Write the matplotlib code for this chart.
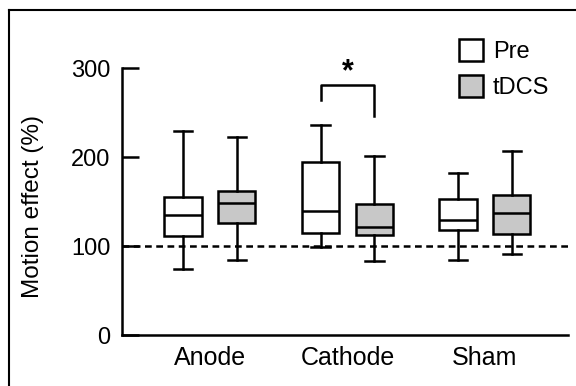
import matplotlib
matplotlib.use("Agg")
import matplotlib.pyplot as plt
from matplotlib.lines import Line2D
from matplotlib.patches import Patch

plt.rcParams["font.family"] = ["Liberation Sans", "DejaVu Sans"]

# values (Motion effect, %)
groups = ["Anode", "Cathode", "Sham"]
conditions = ["Pre", "tDCS"]
whis_lo = [[74, 84], [99, 83], [84, 91]]
q1 = [[111, 126], [115, 113], [118, 114]]
med = [[135, 149], [140, 122], [129, 137]]
q3 = [[155, 162], [195, 147], [153, 158]]
whis_hi = [[230, 223], [236, 201], [182, 207]]
fills = ["white", "#c8c8c8"]
y_ticks = [0, 100, 200, 300]
baseline = 100

OFFSET = 0.196
BOX_W = 0.27
LW = 1.8

fig = plt.figure(figsize=(5.76, 3.86), dpi=100)
ax = fig.add_axes([121.7 / 576, 51 / 386, (568 - 121.7) / 576, (335 - 68.3) / 386])

for gi, g in enumerate(groups):
    for ci, cond in enumerate(conditions):
        pos = gi + 1 + (ci - 0.5) * 2 * OFFSET
        stats = [{
            "med": med[gi][ci], "q1": q1[gi][ci], "q3": q3[gi][ci],
            "whislo": whis_lo[gi][ci], "whishi": whis_hi[gi][ci], "fliers": [],
        }]
        ax.bxp(
            stats, positions=[pos], widths=BOX_W, patch_artist=True,
            showfliers=False, manage_ticks=False,
            boxprops=dict(facecolor=fills[ci], edgecolor="black", linewidth=LW),
            medianprops=dict(color="black", linewidth=LW),
            whiskerprops=dict(color="black", linewidth=LW),
            capprops=dict(color="black", linewidth=LW),
        )

ax.axhline(baseline, color="black", linewidth=LW, linestyle=(0, (2.7, 1.8)), zorder=1)

# significance bracket for Cathode
left = 2 - OFFSET
right = 2 + OFFSET
ax.plot([left, left, right, right], [264, 281, 281, 246], color="black",
        linewidth=LW, clip_on=False)
ax.text(2, 296, "*", ha="center", va="center", fontsize=22, fontweight="bold")

ax.set_xlim(0.358, 3.604)
ax.set_ylim(0, 300)
ax.set_yticks(y_ticks)
ax.set_xticks([1, 2, 3])
ax.set_xticklabels(groups, fontsize=18)
ax.tick_params(axis="y", direction="in", length=12, width=LW, labelsize=17, pad=8)
ax.tick_params(axis="x", length=0, pad=8)
ax.spines["top"].set_visible(False)
ax.spines["right"].set_visible(False)
ax.spines["left"].set_linewidth(LW)
ax.spines["bottom"].set_linewidth(LW)
ax.set_ylabel("Motion effect (%)", fontsize=17.5)
ax.yaxis.set_label_coords(-0.175, 0.48)

handles = [Patch(facecolor=f, edgecolor="black", linewidth=LW) for f in fills]
ax.legend(handles, conditions, loc="upper left", frameon=False, fontsize=17,
          bbox_to_anchor=(459.3 / 576, (386 - 39) / 386),
          bbox_transform=fig.transFigure, borderpad=0, borderaxespad=0,
          handlelength=1.0, handleheight=1.05, handletextpad=0.42,
          labelspacing=0.5)

# outer frame (left and top edges visible in the reference)
fx = 9.3 / 576
fy = (386 - 10) / 386
fig.add_artist(Line2D([fx, fx], [0, fy], color="black", linewidth=1.5))
fig.add_artist(Line2D([fx, 1], [fy, fy], color="black", linewidth=1.5))

fig.savefig("out.png", dpi=100)
plt.close(fig)
